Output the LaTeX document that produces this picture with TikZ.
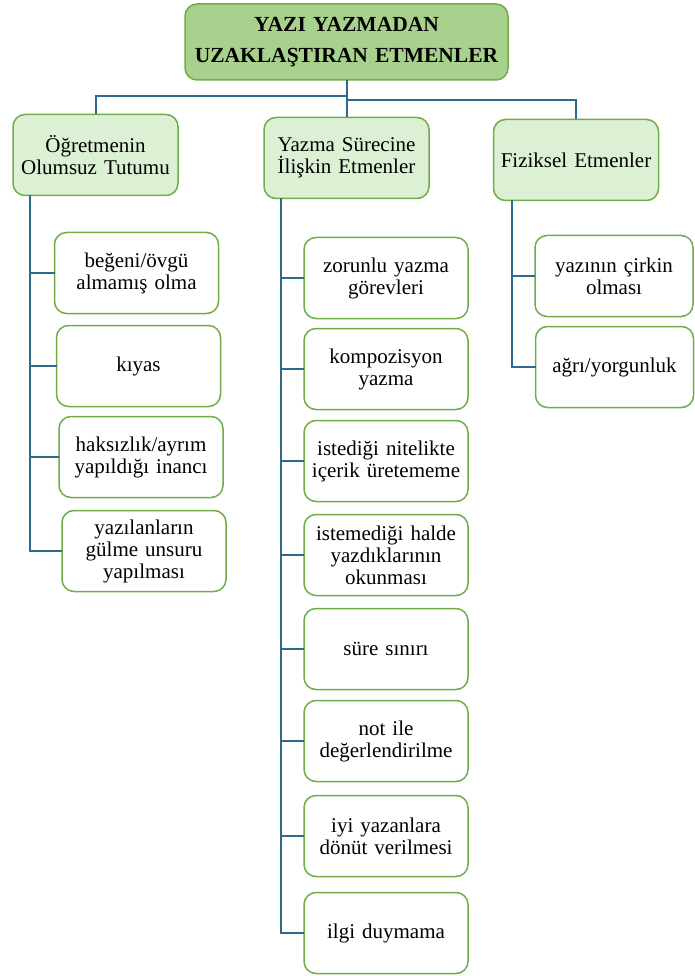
\documentclass[tikz,border=0pt]{standalone}
\usepackage{fontspec}
\setmainfont{Liberation Serif}
\usepackage{tikz}
\usetikzlibrary{shapes}
\definecolor{lgreen}{RGB}{112,173,71}
\definecolor{mgreen}{RGB}{169,209,142}
\definecolor{pgreen}{RGB}{220,241,211}
\definecolor{lblue}{RGB}{49,104,142}
\tikzstyle{block0} = [rectangle, rounded corners=12pt, draw=lgreen, line width=1.5pt,
                     fill=mgreen, text width=310pt, align=center, inner sep=2pt, outer sep=0pt,
                     minimum width=323pt, minimum height=76pt,
                     font=\fontsize{21.5}{31}\selectfont\bfseries]
\tikzstyle{block1} = [rectangle, rounded corners=12pt, draw=lgreen, line width=1.5pt,
                     fill=pgreen, text width=156pt, align=center, inner sep=2pt, outer sep=0pt,
                     minimum width=165pt, minimum height=81pt,
                     font=\fontsize{21}{22.5}\selectfont]
\tikzstyle{block2} = [rectangle, rounded corners=12pt, draw=lgreen, line width=1.5pt,
                     fill=white, text width=154pt, align=center, inner sep=2pt, outer sep=0pt,
                     minimum width=164pt, minimum height=81pt,
                     font=\fontsize{21}{22}\selectfont]

\begin{document}
\begin{tikzpicture}[x=1pt, y=-1pt,
conn/.style={draw=lblue, line width=2pt}]
\useasboundingbox (0,0) rectangle (694,976);

%Title
\node [block0] at (346.5,42) (title){YAZI YAZMADAN\\UZAKLAŞTIRAN ETMENLER};

%Main groups
\node [block1] at (95.5,155) (tutum){Öğretmenin\\Olumsuz Tutumu};
\node [block1] at (346.5,158) (surec){Yazma Sürecine\\İlişkin Etmenler};
\node [block1] at (576,160) (fizik){Fiziksel Etmenler};

\draw[conn] (title.south) -- ++(0,16) -| (tutum.north);
\draw[conn] (title.south) -- (surec.north);
\draw[conn] (title.south) -- ++(0,20) -| (fizik.north);

%Teacher
\node [block2] at (136.5,273) (begeni){beğeni/övgü\\almamış olma};
\node [block2] at (138.5,366) (kiyas){kıyas};
\node [block2] at (141,457) (haksiz){haksızlık/ayrım\\yapıldığı inancı};
\node [block2] at (144,551) (gulme){yazılanların\\gülme unsuru\\yapılması};

\draw[conn] (tutum.south west) ++(17,0) |- (gulme.west);
\draw[conn] (tutum.south west) ++(17,0) |- (begeni.west);
\draw[conn] (tutum.south west) ++(17,0) |- (kiyas.west);
\draw[conn] (tutum.south west) ++(17,0) |- (haksiz.west);

%Writing process
\node [block2] at (386,278) (zorunlu){zorunlu yazma\\görevleri};
\node [block2] at (386,369) (kompoz){kompozisyon\\yazma};
\node [block2] at (386,461) (icerik){istediği nitelikte\\içerik üretememe};
\node [block2] at (386,555) (okunma){istemediği halde\\yazdıklarının\\okunması};
\node [block2] at (386,649) (sure){süre sınırı};
\node [block2] at (386,741) (notile){not ile\\değerlendirilme};
\node [block2] at (386,836) (donut){iyi yazanlara\\dönüt verilmesi};
\node [block2] at (386,933) (ilgi){ilgi duymama};

\draw[conn] (surec.south west) ++(17,0) |- (ilgi.west);
\draw[conn] (surec.south west) ++(17,0) |- (zorunlu.west);
\draw[conn] (surec.south west) ++(17,0) |- (kompoz.west);
\draw[conn] (surec.south west) ++(17,0) |- (icerik.west);
\draw[conn] (surec.south west) ++(17,0) |- (okunma.west);
\draw[conn] (surec.south west) ++(17,0) |- (sure.west);
\draw[conn] (surec.south west) ++(17,0) |- (notile.west);
\draw[conn] (surec.south west) ++(17,0) |- (donut.west);

%Physical
\node [block2, minimum width=156pt] at (614,276) (cirkin){yazının çirkin\\olması};
\node [block2, minimum width=155pt] at (614.5,367) (agri){ağrı/yorgunluk};

\draw[conn] (fizik.south west) ++(18,0) |- (agri.west);
\draw[conn] (fizik.south west) ++(18,0) |- (cirkin.west);
\end{tikzpicture}
\end{document}
